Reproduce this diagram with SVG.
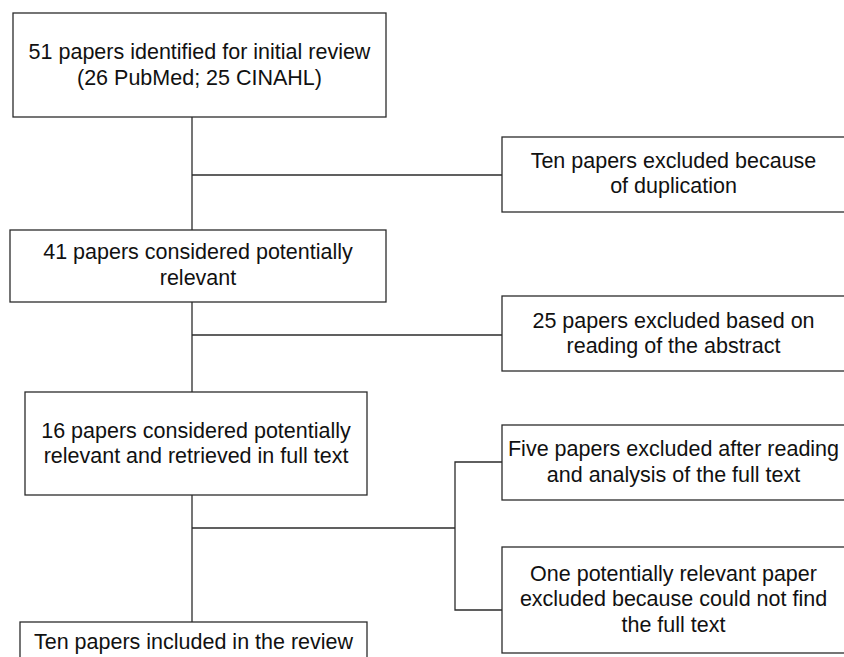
<svg xmlns="http://www.w3.org/2000/svg" width="844" height="657" viewBox="0 0 844 657">
<style>
rect{fill:#fff;stroke:#2b2b2b;stroke-width:1.3}
.c line,.c polyline{stroke:#2b2b2b;stroke-width:1.3;fill:none}
text{font-family:"Liberation Sans",Arial,sans-serif;font-size:21.5px;fill:#111;text-anchor:middle}
</style>
<rect x="0" y="0" width="844" height="657" style="stroke:none"/>
<g class="c" id="connectors">
<line x1="192" y1="117" x2="192" y2="230"/>
<line x1="192" y1="175" x2="502" y2="175"/>
<line x1="192" y1="302" x2="192" y2="392"/>
<line x1="192" y1="335" x2="502" y2="335"/>
<line x1="192" y1="495" x2="192" y2="622"/>
<line x1="192" y1="528" x2="455" y2="528"/>
<polyline points="502,462 455,462 455,610 502,610"/>
</g>
<g id="n1"><rect x="13" y="13" width="373" height="104"/>
<text x="199.5" y="59">51 papers identified for initial review</text>
<text x="199.5" y="85">(26 PubMed; 25 CINAHL)</text></g>
<g id="n2"><rect x="10" y="230" width="376" height="72"/>
<text x="198" y="259">41 papers considered potentially</text>
<text x="198" y="285">relevant</text></g>
<g id="n3"><rect x="25" y="392" width="342" height="103"/>
<text x="196" y="438">16 papers considered potentially</text>
<text x="196" y="463">relevant and retrieved in full text</text></g>
<g id="n4"><rect x="20" y="622" width="347" height="60"/>
<text x="193.5" y="649">Ten papers included in the review</text></g>
<g id="e1"><rect x="502" y="137" width="350" height="75"/>
<text x="673.5" y="168">Ten papers excluded because</text>
<text x="673.5" y="193">of duplication</text></g>
<g id="e2"><rect x="502" y="296" width="350" height="75"/>
<text x="673.5" y="328">25 papers excluded based on</text>
<text x="673.5" y="353">reading of the abstract</text></g>
<g id="e3"><rect x="502" y="425" width="350" height="75"/>
<text x="673.5" y="456">Five papers excluded after reading</text>
<text x="673.5" y="482">and analysis of the full text</text></g>
<g id="e4"><rect x="502" y="547" width="350" height="106"/>
<text x="673.5" y="581">One potentially relevant paper</text>
<text x="673.5" y="606">excluded because could not find</text>
<text x="673.5" y="632">the full text</text></g>
</svg>
